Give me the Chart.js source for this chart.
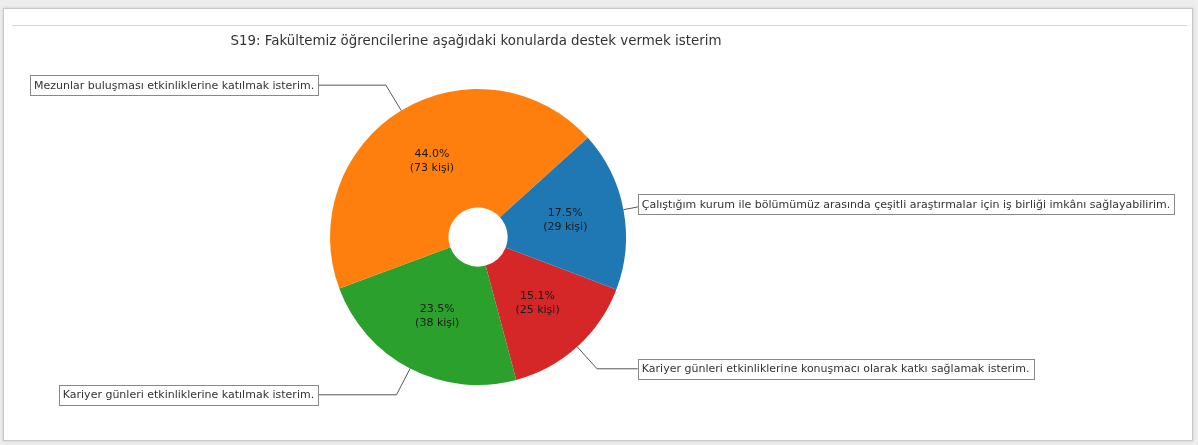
<!DOCTYPE html>
<html lang="tr">
<head>
  <meta charset="UTF-8">
  <title>S19 - Destek</title>
  <script src="https://cdn.jsdelivr.net/npm/chart.js"></script>
  <style>
    html, body {
      margin: 0;
      padding: 0;
      width: 1198px;
      height: 445px;
      background: #ededed;
      overflow: hidden;
      font-family: 'DejaVu Sans', sans-serif;
    }
    .frame {
      position: absolute;
      left: 3px;
      top: 8px;
      width: 1188px;
      height: 431px;
      background: #fff;
      border: 1px solid #c9c9c9;
      box-shadow: 0 0 3px rgba(0,0,0,0.15);
    }
    .topline {
      position: absolute;
      left: 8px;
      top: 16px;
      width: 1175px;
      height: 1px;
      background: #d6d6d6;
    }
    canvas {
      position: absolute;
      left: 0;
      top: 0;
    }
  </style>
</head>
<body>
  <div class="frame"><div class="topline"></div></div>
  <canvas id="pie" width="1198" height="445"></canvas>
  <script>
    // Question title
    const title = 'S19: Fakültemiz öğrencilerine aşağıdaki konularda destek vermek isterim';

    // Answers, in the order matplotlib draws them (counter-clockwise)
    const categories = [
      'Çalıştığım kurum ile bölümümüz arasında çeşitli araştırmalar için iş birliği imkânı sağlayabilirim.',
      'Mezunlar buluşması etkinliklerine katılmak isterim.',
      'Kariyer günleri etkinliklerine katılmak isterim.',
      'Kariyer günleri etkinliklerine konuşmacı olarak katkı sağlamak isterim.'
    ];
    const counts = [29, 73, 39, 25];
    // person counts as printed inside the wedges
    const shownCounts = [29, 73, 38, 25];
    const colors = ['#1f77b4', '#ff7f0e', '#2ca02c', '#d62728'];

    const total = counts.reduce((a, b) => a + b, 0);
    const pctLabels = counts.map((c, i) =>
      [(c / total * 100).toFixed(1) + '%', '(' + shownCounts[i] + ' kişi)']);

    // Chart.js goes clockwise, matplotlib counter-clockwise -> reverse
    const order = [3, 2, 1, 0];

    // draws the title, the % labels and the boxed callouts
    const annotate = {
      id: 'annotate',
      afterDatasetsDraw(chart) {
        const ctx = chart.ctx;
        const meta = chart.getDatasetMeta(0);
        const first = meta.data[0];
        const cx = first.x, cy = first.y, r = first.outerRadius;

        ctx.save();
        ctx.fillStyle = '#333';
        ctx.font = '13.4px "DejaVu Sans"';
        ctx.textAlign = 'center';
        ctx.textBaseline = 'middle';
        ctx.fillText(title, cx - 2, 42);

        meta.data.forEach((arc, j) => {
          const i = order[j];
          const mid = (arc.startAngle + arc.endAngle) / 2;
          const cos = Math.cos(mid), sin = Math.sin(mid);

          // percentage inside the wedge
          ctx.fillStyle = '#1a1a1a';
          ctx.font = '11px "DejaVu Sans"';
          ctx.textAlign = 'center';
          const lx = cx + cos * r * 0.6, ly = cy + sin * r * 0.6;
          ctx.fillText(pctLabels[i][0], lx, ly - 7);
          ctx.fillText(pctLabels[i][1], lx, ly + 7);

          // callout line
          const side = cos >= 0 ? 1 : -1;
          const px = cx + cos * r, py = cy + sin * r;
          const ty = cy + 1.2 * r * sin;
          const t = (ty - py) / sin;
          const kx = px + t * cos;
          const edgeX = cx + side * 1.08 * r;
          ctx.strokeStyle = '#555';
          ctx.lineWidth = 1;
          ctx.beginPath();
          ctx.moveTo(px, py);
          ctx.lineTo(kx, ty);
          ctx.lineTo(edgeX, ty);
          ctx.stroke();

          // text box
          ctx.font = '11px "DejaVu Sans"';
          const w = ctx.measureText(categories[i]).width + 8;
          const h = 20;
          const bx = side > 0 ? edgeX : edgeX - w;
          ctx.fillStyle = '#fff';
          ctx.fillRect(bx, ty - h / 2, w, h);
          ctx.strokeStyle = '#888';
          ctx.strokeRect(Math.round(bx) + 0.5, Math.round(ty - h / 2) + 0.5, Math.round(w), h);
          ctx.fillStyle = '#333';
          ctx.textAlign = 'left';
          ctx.fillText(categories[i], bx + 4, ty + 0.5);
        });
        ctx.restore();
      }
    };

    new Chart(document.getElementById('pie'), {
      type: 'doughnut',
      data: {
        labels: order.map(i => categories[i]),
        datasets: [{
          data: order.map(i => counts[i]),
          backgroundColor: order.map(i => colors[i]),
          borderWidth: 0
        }]
      },
      options: {
        responsive: false,
        animation: false,
        cutout: '20%',
        rotation: 110.8,
        layout: {
          padding: { top: 89, bottom: 60, left: 330, right: 572 }
        },
        plugins: {
          legend: { display: false },
          tooltip: { enabled: false },
          title: { display: false }
        }
      },
      plugins: [annotate]
    });
  </script>
</body>
</html>
